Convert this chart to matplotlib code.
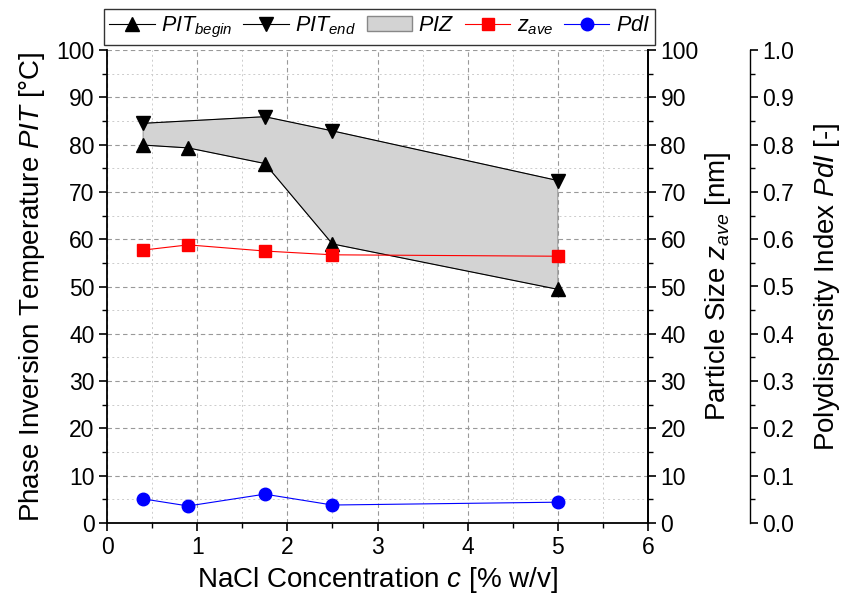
import matplotlib
matplotlib.use("Agg")
import matplotlib.pyplot as plt
from matplotlib.ticker import MultipleLocator
from matplotlib.patches import Patch
from matplotlib.lines import Line2D

plt.rcParams['font.family'] = ['Liberation Sans', 'DejaVu Sans']
plt.rcParams['mathtext.fontset'] = 'custom'
plt.rcParams['mathtext.rm'] = 'Liberation Sans'
plt.rcParams['mathtext.it'] = 'Liberation Sans:italic'

# Data
x_begin = [0.4, 0.9, 1.75, 2.5, 5.0]
pit_begin = [79.9, 79.3, 76.0, 59.0, 49.4]
x_end = [0.4, 1.75, 2.5, 5.0]
pit_end = [84.5, 85.9, 82.9, 72.4]
x_z = [0.4, 0.9, 1.75, 2.5, 5.0]
z_ave = [57.7, 58.8, 57.5, 56.7, 56.4]
x_pdi = [0.4, 0.9, 1.75, 2.5, 5.0]
pdi = [0.051, 0.036, 0.061, 0.038, 0.044]

fig = plt.figure(figsize=(8.41, 5.98), dpi=100)
ax = fig.add_axes([107/841, 75/598, 541/841, 473/598])
ax2 = ax.twinx()
ax3 = ax.twinx()
ax3.spines['right'].set_position(('axes', (750 - 107) / 541))

FS_T = 16.5
FS_L = 20

# PIZ fill
poly_x = list(x_end) + list(x_begin[::-1])
poly_y = list(pit_end) + list(pit_begin[::-1])
ax.fill(poly_x, poly_y, facecolor='#d3d3d3', edgecolor='#888888', linewidth=0.6, zorder=2)

ax.plot(x_begin, pit_begin, color='black', lw=0.8, marker='^', ms=10, zorder=4)
ax.plot(x_end, pit_end, color='black', lw=0.8, marker='v', ms=10, zorder=4)
ax2.plot(x_z, z_ave, color='red', lw=0.8, marker='s', ms=8.5, zorder=4)
ax3.plot(x_pdi, pdi, color='blue', lw=0.8, marker='o', ms=9, zorder=4)

ax.set_xlim(0, 6)
ax.set_ylim(0, 100)
ax2.set_ylim(0, 100)
ax3.set_ylim(0, 1)

ax.xaxis.set_major_locator(MultipleLocator(1))
ax.xaxis.set_minor_locator(MultipleLocator(0.5))
ax.yaxis.set_major_locator(MultipleLocator(10))
ax.yaxis.set_minor_locator(MultipleLocator(5))
ax2.yaxis.set_major_locator(MultipleLocator(10))
ax2.yaxis.set_minor_locator(MultipleLocator(5))
ax3.yaxis.set_major_locator(MultipleLocator(0.1))
ax3.yaxis.set_minor_locator(MultipleLocator(0.05))
ax3.yaxis.set_major_formatter(matplotlib.ticker.FormatStrFormatter('%.1f'))

ax.grid(which='major', color='#999999', linestyle=(0, (4, 3)), lw=0.8)
ax.grid(which='minor', color='#cccccc', linestyle=(0, (2, 3)), lw=0.7)
ax.set_axisbelow(True)

for a in (ax, ax2, ax3):
    a.tick_params(which='major', direction='out', length=6, width=1.2, labelsize=FS_T, pad=3)
    a.tick_params(which='minor', direction='out', length=3.5, width=1.0)

ax.tick_params(axis='y', which='both', right=False)
ax.tick_params(axis='x', which='both', top=False)
for s in ax.spines.values():
    s.set_linewidth(1.3)
ax.spines['top'].set_visible(False)
ax2.spines['top'].set_visible(False)
ax3.spines['top'].set_visible(False)
for s in ('left', 'bottom'):
    ax2.spines[s].set_visible(False)
    ax3.spines[s].set_visible(False)
ax2.spines['right'].set_linewidth(1.3)
ax3.spines['right'].set_linewidth(1.0)

ax.set_xlabel(r'NaCl Concentration $\mathit{c}$ [% w/v]', fontsize=FS_L, labelpad=5)
ax.set_ylabel(r'Phase Inversion Temperature $\mathit{PIT}$ [°C]', fontsize=FS_L, labelpad=7)
ax2.set_ylabel(r'Particle Size $\mathit{z}_{\mathit{ave}}$ [nm]', fontsize=FS_L, labelpad=3)
ax3.set_ylabel(r'Polydispersity Index $\mathit{PdI}$ [-]', fontsize=FS_L, labelpad=13)

handles = [
    Line2D([], [], color='black', lw=0.8, marker='^', ms=10),
    Line2D([], [], color='black', lw=0.8, marker='v', ms=10),
    Patch(facecolor='#d3d3d3', edgecolor='#888888'),
    Line2D([], [], color='red', lw=0.8, marker='s', ms=8.5),
    Line2D([], [], color='blue', lw=0.8, marker='o', ms=9),
]
labels = [r'$\mathit{PIT}_{\mathit{begin}}$', r'$\mathit{PIT}_{\mathit{end}}$',
          r'$\mathit{PIZ}$', r'$\mathit{z}_{\mathit{ave}}$', r'$\mathit{PdI}$']
leg = fig.legend(handles, labels, loc='upper left', bbox_to_anchor=(104/841, 1 - 9/598),
                 ncol=5, fontsize=15.5, frameon=True, fancybox=False, edgecolor='black',
                 handlelength=2.1, handletextpad=0.3, columnspacing=0.5, borderpad=0.25,
                 borderaxespad=0)
leg.get_frame().set_linewidth(1.0)

fig.savefig('out.png', dpi=100)
